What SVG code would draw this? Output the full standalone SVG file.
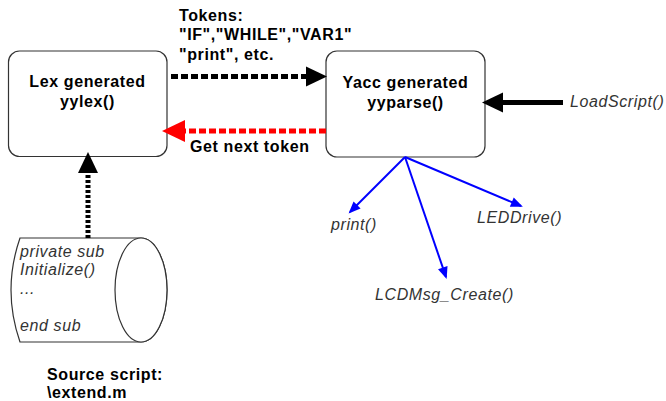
<svg xmlns="http://www.w3.org/2000/svg" width="666" height="401" viewBox="0 0 666 401">
  <style>
    .box { fill: #ffffff; stroke: #333333; stroke-width: 1.2; }
    .bold { font-family: "Liberation Sans", Arial, sans-serif; font-size: 16px; font-weight: bold; fill: #000000; letter-spacing: 0.6px; }
    .ital { font-family: "Liberation Sans", Arial, sans-serif; font-size: 16px; font-style: italic; fill: #333333; letter-spacing: 0.6px; }
    .mid { text-anchor: middle; }
    .thick { fill: none; stroke-width: 5; }
    .blue { fill: none; stroke: #0000ff; stroke-width: 2; }
  </style>
  <defs>
    <marker id="headBlack" markerUnits="userSpaceOnUse" markerWidth="22" markerHeight="20" refX="0" refY="10" orient="auto" overflow="visible">
      <path d="M0,0 L21,10 L0,20 z" fill="#000000"/>
    </marker>
    <marker id="headRed" markerUnits="userSpaceOnUse" markerWidth="23" markerHeight="22" refX="0" refY="11" orient="auto" overflow="visible">
      <path d="M0,0 L23,11 L0,22 z" fill="#ff0000"/>
    </marker>
    <marker id="headBlue" markerUnits="userSpaceOnUse" markerWidth="12" markerHeight="10" refX="10" refY="5" orient="auto" overflow="visible">
      <path d="M0,0 L12,5 L0,10 z" fill="#0000ff"/>
    </marker>
  </defs>

  <!-- Lexer node -->
  <g id="lex">
    <rect class="box" x="8.5" y="51" width="158.5" height="105.5" rx="11"/>
    <text class="bold mid" x="87.5" y="87">Lex generated</text>
    <text class="bold mid" x="87.5" y="107">yylex()</text>
  </g>

  <!-- Parser node -->
  <g id="yacc">
    <rect class="box" x="326" y="51" width="159" height="106" rx="11"/>
    <text class="bold mid" x="405.5" y="88">Yacc generated</text>
    <text class="bold mid" x="405.5" y="107.5">yyparse()</text>
  </g>

  <!-- Source script store -->
  <g id="source">
    <path class="box" d="M20,238 L141,238 A26,52 0 0 1 141,342 L20,342 Q2,290 20,238 z"/>
    <ellipse class="box" cx="141" cy="290" rx="26" ry="52"/>
    <text class="ital" x="20" y="256.5">private sub</text>
    <text class="ital" x="20" y="275">Initialize()</text>
    <text class="ital" x="20" y="293.5" fill="#888888">...</text>
    <text class="ital" x="20" y="331">end sub</text>
    <text class="bold" x="47" y="380">Source script:</text>
    <text class="bold" x="47" y="398">\extend.m</text>
  </g>

  <!-- Entry call -->
  <g id="loadscript">
    <text class="ital" x="570" y="107">LoadScript()</text>
  </g>

  <!-- Called functions -->
  <g id="print">
    <text class="ital" x="331" y="230">print()</text>
  </g>
  <g id="leddrive">
    <text class="ital" x="477" y="223">LEDDrive()</text>
  </g>
  <g id="lcdmsg">
    <text class="ital" x="375" y="300">LCDMsg_Create()</text>
  </g>

  <!-- Connectors -->
  <g id="connectors">
    <!-- tokens: lexer to parser -->
    <line class="thick" x1="171" y1="76.5" x2="306" y2="76.5" stroke="#000000" stroke-dasharray="7,3" marker-end="url(#headBlack)"/>
    <text class="bold" x="179" y="20.5">Tokens:</text>
    <text class="bold" x="179" y="40">"IF","WHILE","VAR1"</text>
    <text class="bold" x="179" y="59.5">"print", etc.</text>

    <!-- token request: parser to lexer -->
    <line class="thick" x1="326" y1="131" x2="185" y2="131" stroke="#ff0000" stroke-width="4" stroke-dasharray="7,3" marker-end="url(#headRed)"/>
    <text class="bold" x="190" y="152">Get next token</text>

    <!-- script into lexer -->
    <line class="thick" x1="88" y1="238" x2="88" y2="173" stroke="#000000" stroke-width="4" stroke-dasharray="3,2" marker-end="url(#headBlack)"/>

    <!-- LoadScript into parser -->
    <line class="thick" x1="563" y1="102.5" x2="503" y2="102.5" stroke="#000000" stroke-width="4.5" marker-end="url(#headBlack)"/>

    <!-- parser calls -->
    <line class="blue" x1="405" y1="157" x2="350" y2="212" marker-end="url(#headBlue)"/>
    <line class="blue" x1="405" y1="157" x2="446" y2="277" marker-end="url(#headBlue)"/>
    <line class="blue" x1="405" y1="157" x2="521" y2="206" marker-end="url(#headBlue)"/>
  </g>
</svg>
